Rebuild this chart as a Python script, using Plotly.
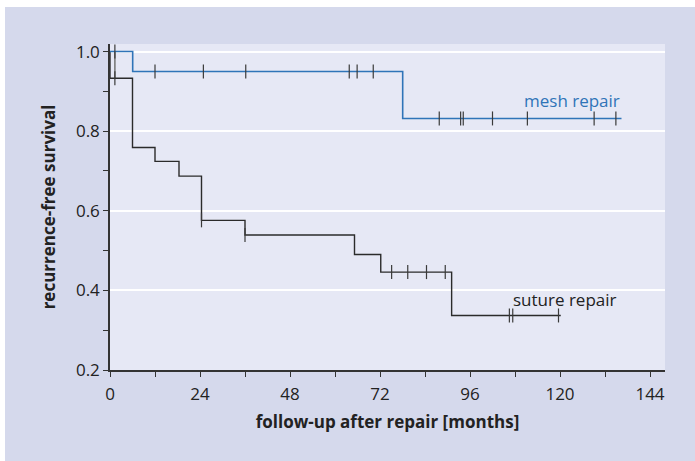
import plotly.graph_objects as go

# ---- data ----
mesh_times = [0, 6.05, 78.05]
mesh_surv = [1.0, 0.95, 0.832]
mesh_end = 136.4
mesh_censor = [1.3, 12.0, 24.9, 36.2, 63.8, 65.9, 70.2,
               87.8, 93.5, 94.2, 102.0, 111.3, 129.1, 134.9]

suture_times = [0, 0, 6.0, 12.0, 18.4, 24.4, 36.0, 65.2, 72.2, 91.1]
suture_surv = [1.0, 0.933, 0.759, 0.724, 0.687, 0.576, 0.539, 0.490, 0.446, 0.337]
suture_end = 120.2
suture_censor = [1.3, 24.4, 36.0, 75.1, 79.4, 84.4, 89.4, 106.5, 107.4, 119.6]

x_ticks = [0, 24, 48, 72, 96, 120, 144]
y_ticks = [0.2, 0.4, 0.6, 0.8, 1.0]

MESH_COLOR = "#2f74b8"
SUTURE_COLOR = "#2b2b2b"
CENSOR_COLOR = "#3a3a3a"
FONT = "Open Sans"


def surv_at(times, surv, t):
    s = surv[0]
    for ti, si in zip(times, surv):
        if ti <= t:
            s = si
    return s


fig = go.Figure()

# early overlapping censoring mark (connects both curves at the first censor time)
t0 = mesh_censor[0]
fig.add_trace(go.Scatter(
    x=[t0, t0],
    y=[surv_at(mesh_times, mesh_surv, t0), surv_at(suture_times, suture_surv, t0)],
    mode="lines", line=dict(color="#7a7a7a", width=1.6),
    hoverinfo="skip", showlegend=False))

# suture repair
fig.add_trace(go.Scatter(
    x=suture_times + [suture_end], y=suture_surv + [suture_surv[-1]],
    mode="lines", line=dict(color=SUTURE_COLOR, width=1.4, shape="hv"),
    showlegend=False))
fig.add_trace(go.Scatter(
    x=suture_censor, y=[surv_at(suture_times, suture_surv, t) for t in suture_censor],
    mode="markers",
    marker=dict(symbol="line-ns", size=10, line=dict(color=CENSOR_COLOR, width=1.2)),
    showlegend=False))

# mesh repair
fig.add_trace(go.Scatter(
    x=mesh_times + [mesh_end], y=mesh_surv + [mesh_surv[-1]],
    mode="lines", line=dict(color=MESH_COLOR, width=1.6, shape="hv"),
    showlegend=False))
fig.add_trace(go.Scatter(
    x=mesh_censor, y=[surv_at(mesh_times, mesh_surv, t) for t in mesh_censor],
    mode="markers",
    marker=dict(symbol="line-ns", size=10, line=dict(color=CENSOR_COLOR, width=1.2)),
    showlegend=False))

fig.add_annotation(x=mesh_end, y=0.876, text="mesh repair", showarrow=False,
                   xanchor="right", yanchor="middle",
                   font=dict(family=FONT, size=17, color=MESH_COLOR))
fig.add_annotation(x=135.7, y=0.378, text="suture repair", showarrow=False,
                   xanchor="right", yanchor="middle",
                   font=dict(family=FONT, size=17, color="#222222"))

# thin white strips along the top and left edge of the panel
fig.add_shape(type="rect", xref="paper", yref="paper",
              x0=-110 / 555, x1=585 / 555, y0=363 / 326, y1=370 / 326,
              fillcolor="white", line=dict(width=0), layer="above")
fig.add_shape(type="rect", xref="paper", yref="paper",
              x0=-110 / 555, x1=-105 / 555, y0=-91 / 326, y1=370 / 326,
              fillcolor="white", line=dict(width=0), layer="above")

fig.update_layout(
    width=695, height=461,
    margin=dict(l=110, r=30, t=44, b=91),
    paper_bgcolor="#d5d9ec",
    plot_bgcolor="#e6e8f5",
    font=dict(family=FONT, size=17, color="#222222"),
    xaxis=dict(
        range=[0, 148], tickvals=x_ticks, ticks="outside", ticklen=5,
        tickwidth=1.3, tickcolor="#333333",
        minor=dict(dtick=12, tick0=0, ticks="outside", ticklen=5,
                   tickwidth=1.3, tickcolor="#333333"),
        showgrid=False, zeroline=False, showline=True, linecolor="#333333",
        linewidth=1.5, ticklabelstandoff=3,
        title=dict(text="<b>follow-up after repair [months]</b>",
                   font=dict(size=17), standoff=12),
        tickfont=dict(size=17),
    ),
    yaxis=dict(
        range=[0.2, 1.019], tickvals=y_ticks, tickformat=".1f", ticks="outside",
        ticklen=5, tickwidth=1.3, tickcolor="#333333",
        minor=dict(dtick=0.1, tick0=0.2, ticks="outside", ticklen=5,
                   tickwidth=1.3, tickcolor="#333333"),
        showgrid=True, gridcolor="white", gridwidth=1.6,
        zeroline=False, showline=True, linecolor="#333333", linewidth=1.5,
        title=dict(text="<b>recurrence-free survival</b>",
                   font=dict(size=17), standoff=16),
        tickfont=dict(size=17),
    ),
)

fig.write_html("out.html", config={"displayModeBar": False},
               post_script="document.body.style.margin='0';document.body.style.padding='0';")
